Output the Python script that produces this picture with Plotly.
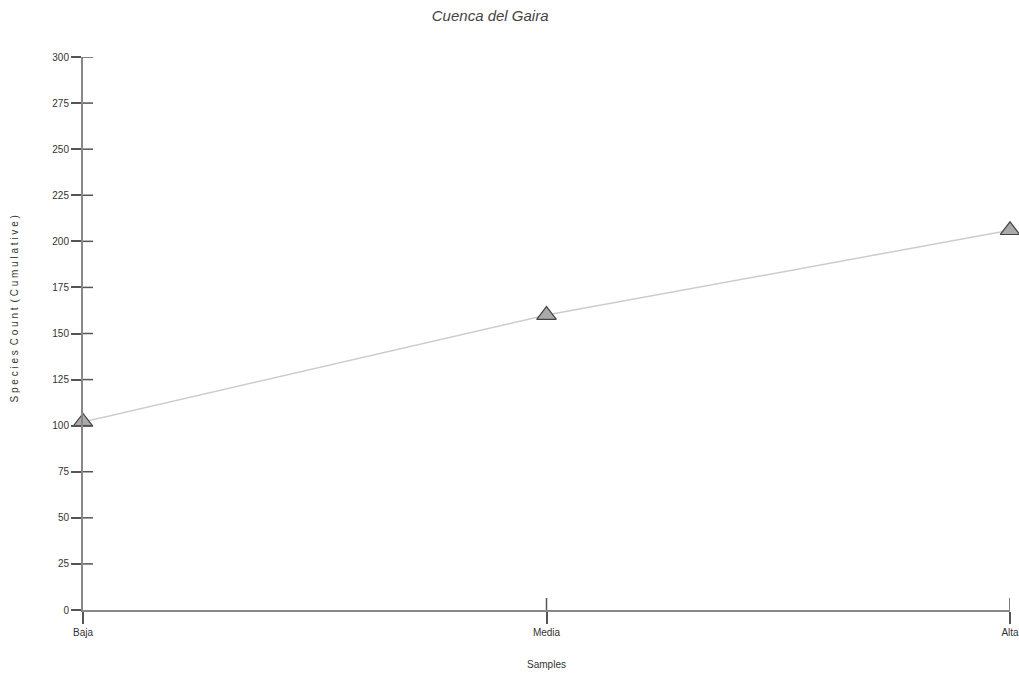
import plotly.graph_objects as go

# Cumulative species count per altitude band
samples = ["Baja", "Media", "Alta"]
species_cumulative = [102, 160, 206]
y_ticks = [0, 25, 50, 75, 100, 125, 150, 175, 200, 225, 250, 275, 300]

font_family = "Liberation Sans, Arial, sans-serif"
axis_color = "#888888"
tick_color = "#555555"
text_color = "#333333"

x_pos = list(range(len(samples)))

fig = go.Figure()
fig.add_trace(go.Scatter(
    x=x_pos,
    y=species_cumulative,
    mode="lines+markers",
    line=dict(color="#cccccc", width=1.5),
    marker=dict(symbol="triangle-up", size=17, color="#aaaaaa",
                line=dict(color="#444444", width=1.2)),
    cliponaxis=False,
    showlegend=False,
    text=samples,
    hovertemplate="%{text}: %{y}<extra></extra>",
))

fig.update_layout(
    width=1019, height=673,
    margin=dict(l=83, r=9, t=57, b=63),
    paper_bgcolor="white", plot_bgcolor="white",
    font=dict(family=font_family, size=10, color=text_color),
    title=dict(text="<i>Cuenca del Gaira</i>", x=0.481, xanchor="center",
               y=0.985, yanchor="top",
               font=dict(family=font_family, size=15, color="#444444")),
    xaxis=dict(
        range=[0, len(samples) - 1],
        tickvals=x_pos, ticktext=samples,
        showline=True, linecolor=axis_color, linewidth=2,
        ticks="outside", ticklen=12, tickwidth=1.5, tickcolor=tick_color,
        showgrid=False, zeroline=False, automargin=False,
        ticklabeloverflow="allow",
        tickfont=dict(size=10, color=text_color),
        title=dict(text="Samples", standoff=24,
                   font=dict(size=10, color=text_color)),
    ),
    yaxis=dict(
        range=[0, 300], tickvals=y_ticks,
        showline=True, linecolor=axis_color, linewidth=2,
        ticks="outside", ticklen=10, tickwidth=1.5, tickcolor=tick_color,
        showgrid=False, zeroline=False, automargin=False,
        tickfont=dict(size=10, color=text_color),
    ),
    annotations=[dict(
        text="S p e c i e s\u2002C o u n t\u2002( C u m u l a t i v e )",
        textangle=-90, xref="paper", yref="paper",
        x=-0.0735, y=0.545, xanchor="center", yanchor="middle",
        showarrow=False, font=dict(size=10, color=text_color),
    )],
)

# Inner halves of the tick marks, so each tick crosses its axis line
for xv in x_pos[1:]:
    fig.add_shape(type="line", xref="x", yref="y", ysizemode="pixel",
                  yanchor=0, x0=xv, x1=xv, y0=0, y1=12,
                  line=dict(color=tick_color, width=1.5))
for yv in y_ticks[1:]:
    fig.add_shape(type="line", xref="x", yref="y", xsizemode="pixel",
                  xanchor=0, x0=0, x1=10, y0=yv, y1=yv,
                  line=dict(color=tick_color, width=1.5))

fig.write_html("out.html")
